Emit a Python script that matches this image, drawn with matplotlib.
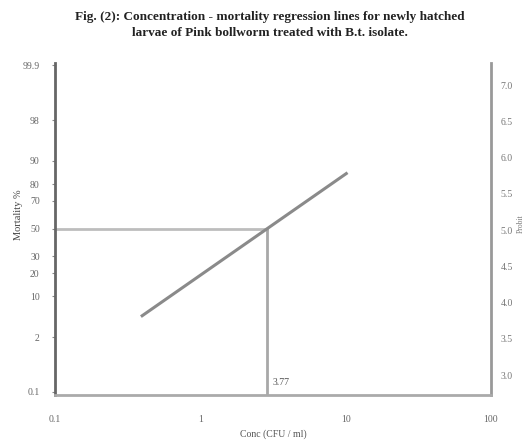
import matplotlib
matplotlib.use("Agg")
import matplotlib.pyplot as plt
import numpy as np
from statistics import NormalDist

# values
pct_labels = [0.1, 2, 10, 20, 30, 50, 70, 80, 90, 98, 99.9]
probit_ticks = [3.0, 3.5, 4.0, 4.5, 5.0, 5.5, 6.0, 6.5, 7.0]
conc_ticks = [0.1, 1, 10, 100]
conc_labels = ["0.1", "1", "10", "100"]
reg_conc = [0.39, 10.3]
reg_mort = [4.8, 85.5]
lc50_text = "3.77"

TITLE = ("Fig. (2): Concentration - mortality regression lines for newly hatched\n"
         "larvae of Pink bollworm treated with B.t. isolate.")

nd = NormalDist()


def probit(p):
    return 5 + nd.inv_cdf(p / 100.0)


plt.rcParams['font.family'] = ['Liberation Serif', 'DejaVu Serif']

fig = plt.figure(figsize=(5.24, 4.48), dpi=100)
ax = fig.add_axes([0.105, 0.118, 0.832, 0.741])

# regression line on log-conc / probit axes
lx = np.log10(reg_conc)
ly = [probit(m) for m in reg_mort]
ax.plot(reg_conc, ly, color='#8a8a8a', lw=2.2, solid_capstyle='butt', zorder=3)

# where the line meets 50 %
slope = (ly[1] - ly[0]) / (lx[1] - lx[0])
x50 = 10 ** (lx[0] + (5 - ly[0]) / slope)

ax.set_xscale('log')
ax.set_xlim(0.1, 100)
ax.set_ylim(1.85, 8.13)

ax.plot([0.1, x50], [5, 5], color='#bdbdbd', lw=2, zorder=2)
ax.plot([x50, x50], [5, 1.85], color='#a8a8a8', lw=2, zorder=2)
ax.text(x50 * 1.08, 2.05, lc50_text, fontsize=7, color='#555555')

ax.set_yticks([probit(p) for p in pct_labels])
ax.set_yticklabels([str(p) for p in pct_labels], fontsize=7, color='#666666')
ax.set_xticks(conc_ticks)
ax.set_xticklabels(conc_labels, fontsize=7, color='#666666')
ax.minorticks_off()
ax.tick_params(axis='x', length=0, pad=14)
ax.tick_params(axis='y', length=2, pad=9, color='#888888')

ax.spines['top'].set_visible(False)
ax.spines['left'].set_color('#666666')
ax.spines['left'].set_linewidth(2)
ax.spines['bottom'].set_color('#aaaaaa')
ax.spines['bottom'].set_linewidth(2)
ax.spines['right'].set_color('#999999')
ax.spines['right'].set_linewidth(2)

ax2 = ax.twinx()
ax2.set_ylim(2.724, 7.303)
ax2.set_yticks(probit_ticks)
ax2.set_yticklabels(["%.1f" % v for v in probit_ticks], fontsize=7, color='#777777')
ax2.tick_params(axis='y', length=0, pad=7)
for s in ax2.spines.values():
    s.set_visible(False)

ax.set_xlabel("Conc (CFU / ml)", fontsize=7, color='#555555', labelpad=4)
fig.text(0.035, 0.52, "Mortality %", rotation=90, fontsize=7.5, color='#444444',
         ha='center', va='center')
fig.text(0.993, 0.5, "Probit", rotation=90, fontsize=5.5, color='#777777',
         ha='center', va='center')

fig.text(0.515, 0.975, TITLE, ha='center', va='top', fontsize=9.5,
         fontweight='bold', linespacing=1.45, color='#222222')

fig.savefig("out.png", dpi=100)
